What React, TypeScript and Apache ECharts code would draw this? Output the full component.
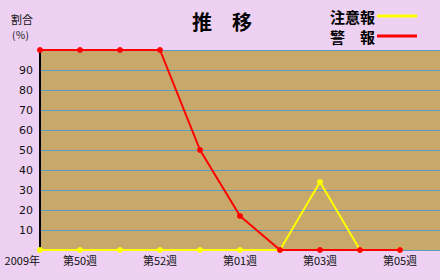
import React, { useEffect, useRef } from "react";
import * as echarts from "echarts";

const categories = ["2009年", "第50週", "第51週", "第52週", "第53週", "第01週", "第02週", "第03週", "第04週", "第05週", ""];
const shownLabels = ["2009年", "第50週", "", "第52週", "", "第01週", "", "第03週", "", "第05週", ""];
const chuuiho = [0, 0, 0, 0, 0, 0, 0, 34, 0, 0];
const keiho = [100, 100, 100, 100, 50, 17, 0, 0, 0, 0];

export default function App() {
  const ref = useRef<HTMLDivElement>(null);
  useEffect(() => {
    const chart = echarts.init(ref.current!, null, { renderer: "svg" });
    const cjk = "'Noto Sans CJK JP', 'DejaVu Sans', sans-serif";
    chart.setOption({
      animation: false,
      backgroundColor: "#EDD0F2",
      title: {
        text: "推　移",
        left: 217,
        top: 6,
        textAlign: "center",
        textStyle: { fontSize: 20, fontWeight: "bold", color: "#000", fontFamily: cjk },
      },
      graphic: [
        { type: "text", left: 11, top: 13, style: { text: "割合", fontSize: 11, fill: "#111", fontFamily: cjk } },
        { type: "text", left: 12, top: 29, style: { text: "(％)", fontSize: 10, fill: "#111", fontFamily: cjk } },
      ],
      legend: {
        orient: "vertical",
        right: 18,
        top: 3,
        align: "right",
        itemWidth: 40,
        itemHeight: 3,
        itemGap: 4,
        icon: "rect",
        textStyle: { fontSize: 15, lineHeight: 16, fontWeight: "bold", color: "#000", fontFamily: cjk, padding: [0, -3, 0, 0] },
        data: ["注意報", "警　報"],
      },
      grid: {
        left: 40,
        right: 0,
        top: 50,
        bottom: 30,
        show: true,
        backgroundColor: "#C9A86B",
        borderWidth: 0,
        containLabel: false,
        outerBoundsMode: "none",
      },
      xAxis: {
        type: "category",
        boundaryGap: false,
        data: categories,
        axisLine: { show: false },
        axisTick: { show: false },
        axisLabel: {
          interval: 0,
          margin: 4,
          fontSize: 11,
          color: "#111",
          fontFamily: cjk,
          alignMinLabel: "right",
          formatter: (_v: string, i: number) => shownLabels[i],
        },
      },
      yAxis: {
        type: "value",
        min: 0,
        max: 100,
        interval: 10,
        axisLine: { show: true, lineStyle: { color: "#000", width: 2 } },
        axisTick: { show: false },
        axisLabel: {
          fontSize: 11,
          color: "#111",
          margin: 7,
          fontFamily: "'DejaVu Sans', sans-serif",
          formatter: (v: number) => (v === 0 || v === 100 ? "" : String(v)),
        },
        splitLine: { show: true, lineStyle: { color: "#5B9DC2", width: 1 } },
      },
      series: [
        {
          name: "注意報",
          type: "line",
          data: chuuiho,
          color: "#FFFF00",
          symbol: "circle",
          symbolSize: 6,
          lineStyle: { width: 2, color: "#FFFF00" },
          itemStyle: { color: "#FFFF00" },
          z: 2,
        },
        {
          name: "警　報",
          type: "line",
          data: keiho,
          color: "#FF0000",
          symbol: "circle",
          symbolSize: 6,
          lineStyle: { width: 2, color: "#FF0000" },
          itemStyle: { color: "#FF0000" },
          z: 3,
        },
      ],
    });
    return () => chart.dispose();
  }, []);
  return <div ref={ref} style={{ width: 440, height: 280, position: "absolute", left: 0, top: 0 }} />;
}
